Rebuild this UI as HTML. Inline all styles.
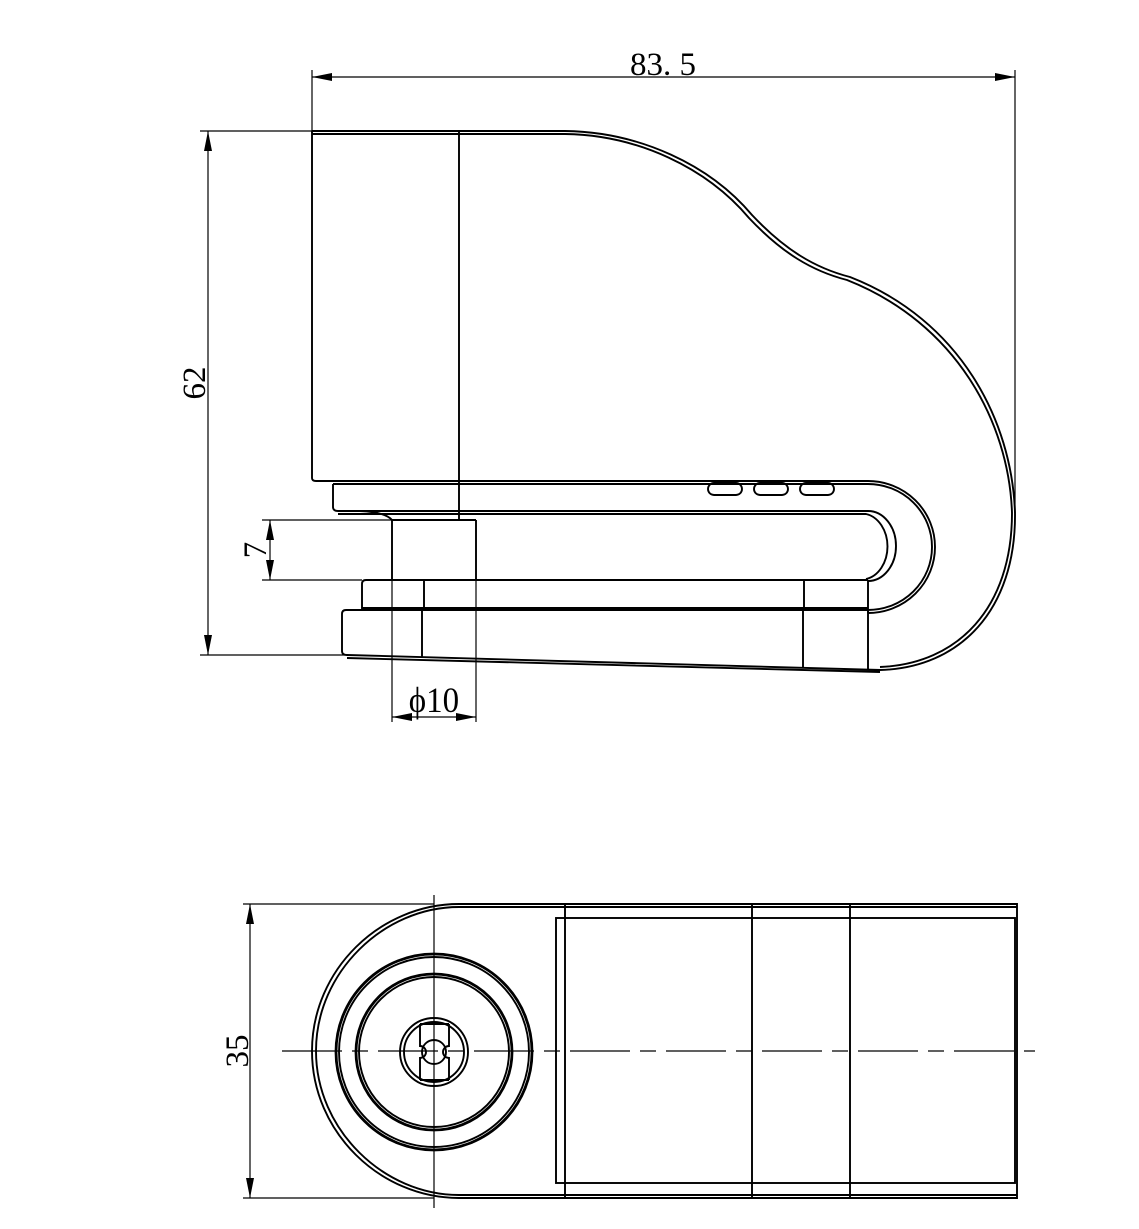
<!DOCTYPE html>
<html><head><meta charset="utf-8"><style>
html,body{margin:0;padding:0;background:#fff}
svg{display:block}
text{font-family:"Liberation Serif",serif;fill:#000}
</style></head><body>
<svg width="1139" height="1229" viewBox="0 0 1139 1229" xmlns="http://www.w3.org/2000/svg">
<defs>
<marker id="a" viewBox="0 0 20 8" refX="20" refY="4" markerWidth="20" markerHeight="8" markerUnits="userSpaceOnUse" orient="auto-start-reverse"><path d="M0,0 L20,4 L0,8 Z" fill="#000"/></marker>
</defs>
<g fill="none" stroke="#000" stroke-width="1.9">
<path d="M312,131 H565 C640,132 710,165 752,215 C785,250 815,268 850,277 C960,320 1012,420 1015,513 C1016,610 960,668 880,670"/>
<path d="M312,134 H565 C638,135 707,168 749,218 C782,253 812,271 847,280 C956,323 1009,422 1012,513 C1012,608 958,664 880,667"/>
<path d="M312,131 V478 Q312,481 316,481 H333"/>
<line x1="459" y1="131" x2="459" y2="520"/>
<path d="M316,481 H868 A67,66 0 0 1 868,613"/>
<path d="M333,484 H868 A64,63 0 0 1 868,610"/>
<path d="M333,484 V507 Q333,511 338,511 H360 Q385,512 392,520 H476"/>
<path d="M338,511 H868 A28,35 0 0 1 868,581"/>
<path d="M338,514 H866 A26,33 0 0 1 866,579"/>
<rect x="708" y="483" width="34" height="12" rx="6"/>
<rect x="754" y="483" width="34" height="12" rx="6"/>
<rect x="800" y="483" width="34" height="12" rx="6"/>
<path d="M392,520 V580 M476,520 V580"/>
<path d="M366,580 H868 M362,584 V608 H868 M362,584 Q362,580 366,580"/>
<path d="M424,580 V608 M804,580 V608 M868,580 V613"/>
<path d="M346,610 H868 M342,614 V651 Q342,655 347,655 L880,670 M342,614 Q342,610 346,610 M347,658 L880,672"/>
<path d="M422,610 V657 M803,610 V668 M868,610 V670"/>
<path d="M459,904 H1017 V1198 H459 M459,907 H1017 M459,1195 H1017"/>
<path d="M459,904 C380,904 312,970 312,1051 C312,1132 380,1198 459,1198"/>
<path d="M459,907 C384,907 316,972 316,1051 C316,1130 384,1195 459,1195"/>
<path d="M565,904 V1198 M752,904 V1198 M850,904 V1198"/>
<rect x="556" y="918" width="459" height="265"/>
<circle cx="434" cy="1052" r="98" stroke-width="2.8"/>
<circle cx="434" cy="1052" r="95"/>
<circle cx="434" cy="1052" r="78" stroke-width="2.8"/>
<circle cx="434" cy="1052" r="75"/>
<circle cx="434" cy="1052" r="34"/>
<circle cx="434" cy="1052" r="30"/>
<path d="M420,1024 V1046 A4,4 0 0 1 420,1058 V1080 M449,1024 V1046 A4,4 0 0 0 449,1058 V1080 M420,1024 H449 M420,1080 H449"/>
<circle cx="434" cy="1052" r="12"/>
</g>
<g fill="none" stroke="#000" stroke-width="1.2">
<line x1="282" y1="1051" x2="1035" y2="1051" stroke-dasharray="60,10,16,10"/>
<line x1="434" y1="895" x2="434" y2="1208"/>
<path d="M312,70 V131 M1015,70 V513"/>
<line x1="312" y1="77" x2="1015" y2="77" marker-start="url(#a)" marker-end="url(#a)"/>
<path d="M200,131 H312 M200,655 H345"/>
<line x1="208" y1="131" x2="208" y2="655" marker-start="url(#a)" marker-end="url(#a)"/>
<path d="M262,520 H392 M262,580 H362"/>
<line x1="270" y1="520" x2="270" y2="580" marker-start="url(#a)" marker-end="url(#a)"/>
<path d="M392,580 V722 M476,580 V722"/>
<line x1="392" y1="717" x2="476" y2="717" marker-start="url(#a)" marker-end="url(#a)"/>
<path d="M243,904 H434 M243,1198 H434"/>
<line x1="250" y1="904" x2="250" y2="1198" marker-start="url(#a)" marker-end="url(#a)"/>
</g>
<text x="663" y="75" font-size="33" text-anchor="middle">83. 5</text>
<text transform="translate(205,383) rotate(-90)" font-size="33" text-anchor="middle">62</text>
<text transform="translate(266,550) rotate(-90)" font-size="33" text-anchor="middle">7</text>
<text x="434" y="712" font-size="33" text-anchor="middle" transform="translate(434,712) scale(1,1.1) translate(-434,-712)">ϕ10</text>
<text transform="translate(248,1051) rotate(-90)" font-size="33" text-anchor="middle">35</text>
</svg>
</body></html>
